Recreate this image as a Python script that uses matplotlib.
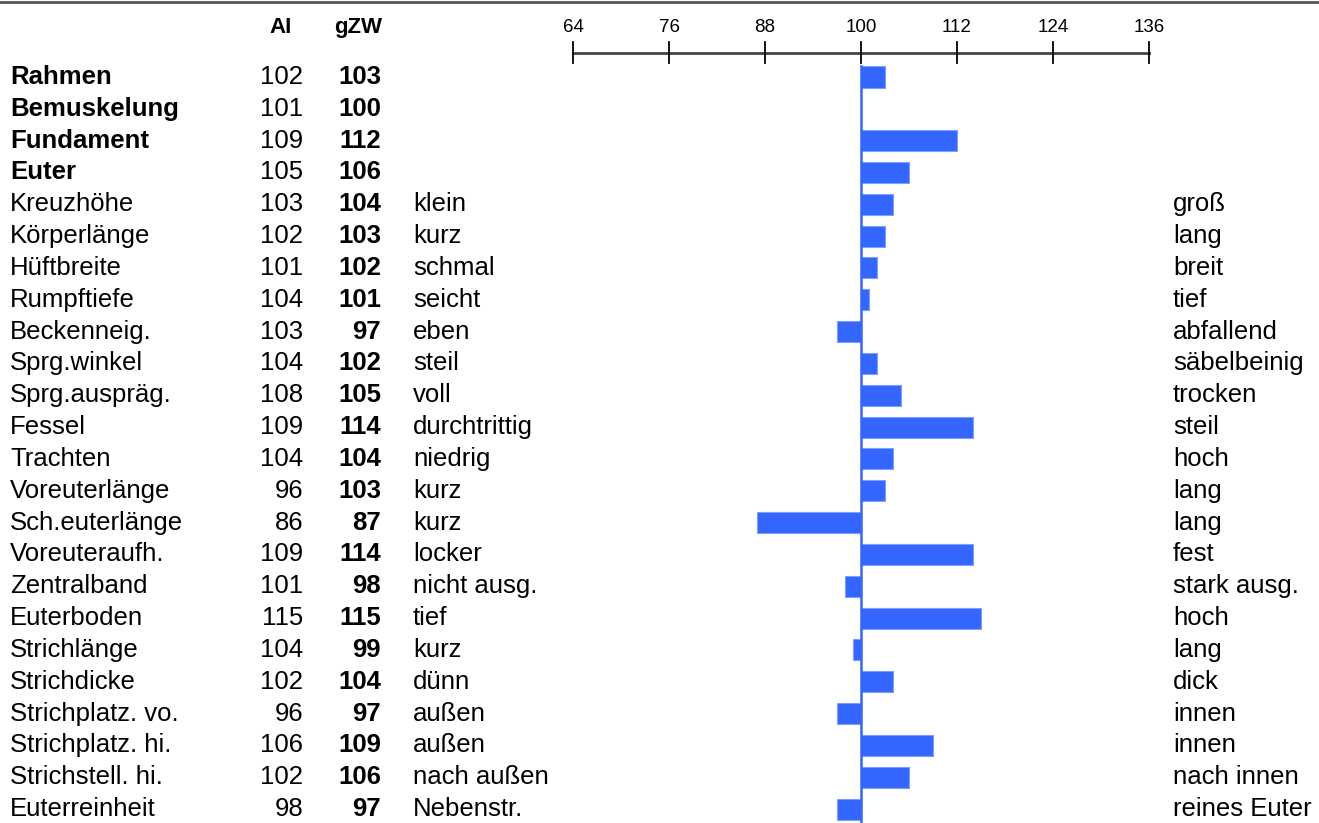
import matplotlib.pyplot as plt
from matplotlib import transforms

plt.rcParams['font.family'] = ['Liberation Sans', 'DejaVu Sans']

traits = ['Rahmen', 'Bemuskelung', 'Fundament', 'Euter', 'Kreuzhöhe', 'Körperlänge',
          'Hüftbreite', 'Rumpftiefe', 'Beckenneig.', 'Sprg.winkel', 'Sprg.auspräg.',
          'Fessel', 'Trachten', 'Voreuterlänge', 'Sch.euterlänge', 'Voreuteraufh.',
          'Zentralband', 'Euterboden', 'Strichlänge', 'Strichdicke', 'Strichplatz. vo.',
          'Strichplatz. hi.', 'Strichstell. hi.', 'Euterreinheit']
ai = [102, 101, 109, 105, 103, 102, 101, 104, 103, 104, 108, 109, 104, 96, 86, 109,
      101, 115, 104, 102, 96, 106, 102, 98]
gzw = [103, 100, 112, 106, 104, 103, 102, 101, 97, 102, 105, 114, 104, 103, 87, 114,
       98, 115, 99, 104, 97, 109, 106, 97]
low_desc = ['', '', '', '', 'klein', 'kurz', 'schmal', 'seicht', 'eben', 'steil', 'voll',
            'durchtrittig', 'niedrig', 'kurz', 'kurz', 'locker', 'nicht ausg.', 'tief',
            'kurz', 'dünn', 'außen', 'außen', 'nach außen', 'Nebenstr.']
high_desc = ['', '', '', '', 'groß', 'lang', 'breit', 'tief', 'abfallend', 'säbelbeinig',
             'trocken', 'steil', 'hoch', 'lang', 'lang', 'fest', 'stark ausg.', 'hoch',
             'lang', 'dick', 'innen', 'innen', 'nach innen', 'reines Euter']
bold_rows = 4
ticks = [64, 76, 88, 100, 112, 124, 136]
base = 100

W, H = 1319, 823
fig = plt.figure(figsize=(W / 100, H / 100), dpi=100)
ax = fig.add_axes([0, 0, 1, 1])
ax.axis('off')

# pixel layout: 8 px per unit, 100 at x=861; rows 31.83 px apart starting at y=77
px_unit, x100 = 8.0, 861
row_h, y0 = 31.83, 77
ax.set_xlim(base - x100 / px_unit, base + (W - x100) / px_unit)
ax.set_ylim((H - y0) / row_h, -y0 / row_h)

def ry(py):
    return (py - y0) / row_h

tr = transforms.blended_transform_factory(ax.transAxes, ax.transData)
fs = 18.5

rows = range(len(traits))
ax.barh(list(rows), [g - base for g in gzw], left=base, height=0.66,
        color='#3366ff', edgecolor='#7f9fff', linewidth=0.8, zorder=2)
ax.plot([base, base], [ry(66), ry(H + 5)], color='#3366ff', lw=1.8, zorder=3)

for i in rows:
    w = 'bold' if i < bold_rows else 'normal'
    ax.text(10 / W, i, traits[i], transform=tr, fontsize=fs, fontweight=w,
            va='center', ha='left')
    ax.text(303 / W, i, str(ai[i]), transform=tr, fontsize=fs, va='center', ha='right')
    ax.text(381 / W, i, str(gzw[i]), transform=tr, fontsize=fs, fontweight='bold',
            va='center', ha='right')
    ax.text(413 / W, i, low_desc[i], transform=tr, fontsize=fs, va='center', ha='left')
    ax.text(1173 / W, i, high_desc[i], transform=tr, fontsize=fs, va='center', ha='left')

# header
ax.text(292 / W, ry(27), 'AI', transform=tr, fontsize=16, fontweight='bold',
        va='center', ha='right')
ax.text(382 / W, ry(27), 'gZW', transform=tr, fontsize=16, fontweight='bold',
        va='center', ha='right')

# scale at top
ax.plot([ticks[0], ticks[-1]], [ry(53), ry(53)], color='#444444', lw=2, zorder=2)
for t in ticks:
    ax.plot([t, t], [ry(42), ry(63)], color='black', lw=1.3, zorder=3)
    ax.text(t, ry(27), str(t), fontsize=13.5, ha='center', va='center')

ax.plot([0, 1], [ry(2), ry(2)], transform=tr, color='#555555', lw=2, clip_on=False)

fig.savefig('out.png', dpi=100)
